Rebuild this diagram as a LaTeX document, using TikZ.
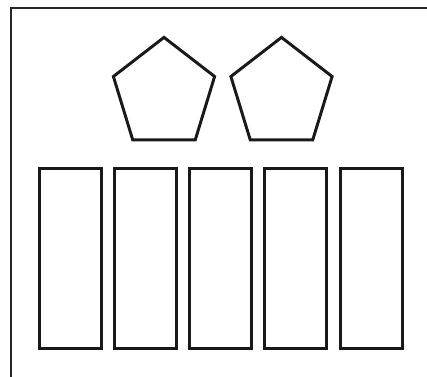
\documentclass[tikz,border=0pt]{standalone}
\usetikzlibrary{shapes.geometric}
\tikzset{
  frm/.style={draw=black!85, line width=1.7pt},
  pent/.style={regular polygon, regular polygon sides=5, draw=black!90,
               line width=2.1pt, minimum size=2.83cm, inner sep=0pt, xscale=0.94},
  slot/.style={rectangle, draw=black!90, line width=2.1pt,
               minimum width=1.55cm, minimum height=4.5cm, inner sep=0pt},
}
\begin{document}
\begin{tikzpicture}[x=0.025cm, y=-0.025cm]
  \useasboundingbox (0,0) rectangle (427,376);
  \clip (0,0) rectangle (427,376);
  \draw[frm] (11,8) rectangle (440,390);
  \node[pent] (penta) at (164,94) {};
  \node[pent] (pentb) at (281.5,94) {};
  \foreach \i/\cx in {1/70.85, 2/145.85, 3/220.85, 4/295.85, 5/371.2}
    \node[slot] (slot\i) at (\cx,258.25) {};
\end{tikzpicture}
\end{document}
